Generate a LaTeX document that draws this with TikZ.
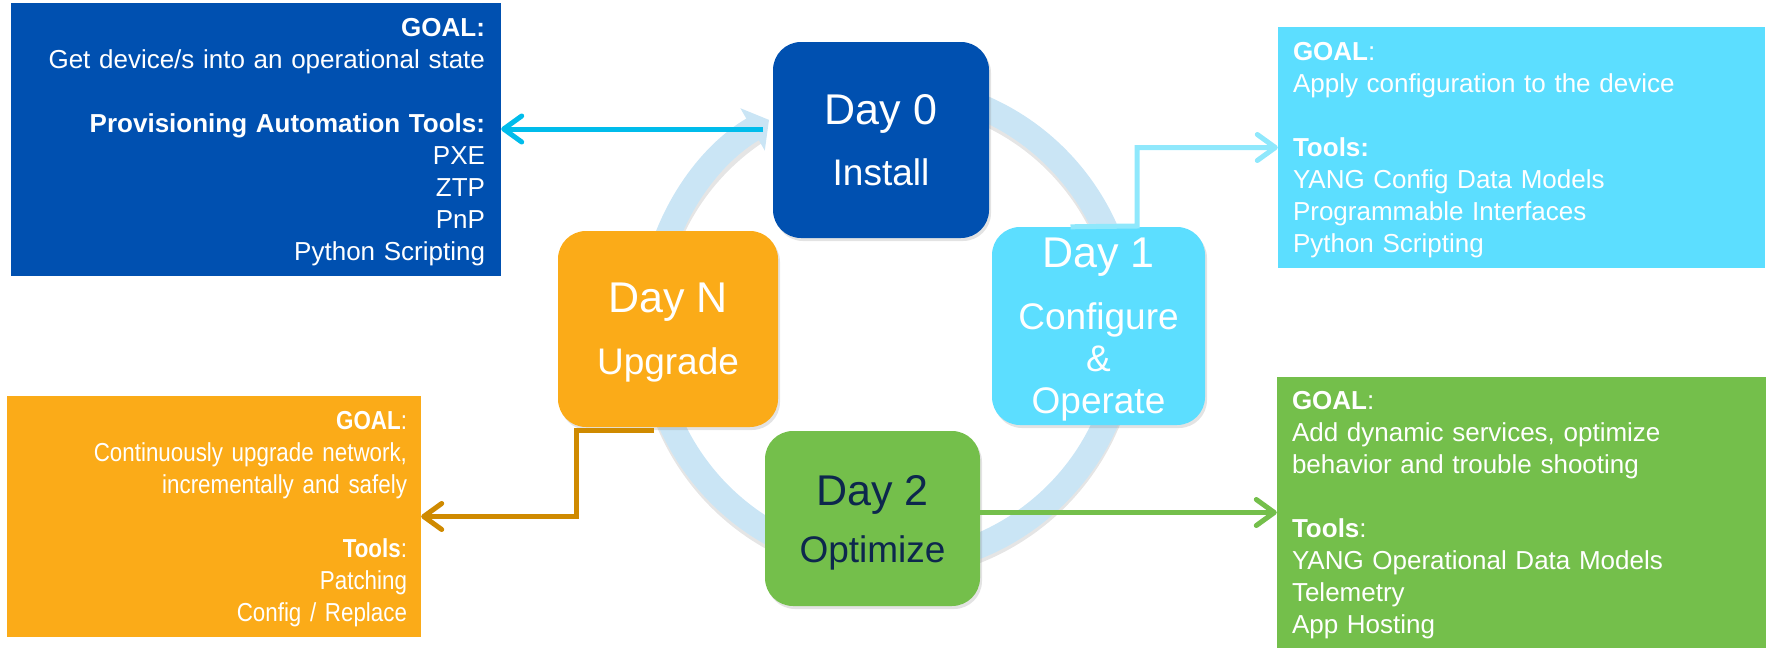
\documentclass[tikz,border=0pt]{standalone}
\usepackage{fontspec}
\setmainfont{Liberation Sans}
\newfontfamily\narrowfont[FakeStretch=0.86]{Liberation Sans}
\usepackage{xcolor}
\usetikzlibrary{arrows.meta,positioning,shadows,calc}

\definecolor{ciscoblue}{HTML}{0050B0}
\definecolor{sky}{HTML}{5CDEFF}
\definecolor{amber}{HTML}{FBAB18}
\definecolor{leaf}{HTML}{74BF4B}
\definecolor{navy}{HTML}{0D274D}
\definecolor{ringblue}{HTML}{CAE5F5}
\definecolor{cyanline}{HTML}{00BCEB}
\definecolor{skyline}{HTML}{8FE8FC}
\definecolor{amberline}{HTML}{CF8A00}

\newcommand{\daytitle}[1]{{\fontsize{43}{42}\selectfont #1}}

\begin{document}
\begin{tikzpicture}[x=1pt, y=-1pt,
    daybox/.style={rounded corners=28pt, align=center, text=white, inner sep=0pt, text depth=-10pt, font=\fontsize{37}{42}\selectfont, drop shadow={opacity=0.22, shadow xshift=2pt, shadow yshift=-3pt}},
    goalbox/.style={inner xsep=15pt, inner ysep=0pt, text=white, text height=24pt, font=\fontsize{26}{32}\selectfont},
    link/.style={line width=5pt, -{Straight Barb[length=18pt, width=26pt, round]}},
    ring/.style={line width=25pt, draw=ringblue, -{Triangle[length=19pt, width=48pt]}}
  ]
    \useasboundingbox (0,0) rectangle (1772,648);

    % cycle ring
    \coordinate (hub) at (888,326);
    \draw[line width=25pt, draw=black, opacity=0.10] ([shift={(0,4)}]hub) ++(-80:238) arc[start angle=-80, end angle=236, radius=238];
    \draw[ring] (hub) ++(-80:238) arc[start angle=-80, end angle=240, radius=238];

    % day boxes
    \node[daybox, fill=ciscoblue, minimum width=216pt, minimum height=196pt] (dayzero) at (881,140) {\daytitle{Day 0}\\[19pt]Install};
    \node[daybox, fill=sky, minimum width=213pt, minimum height=198pt] (dayone) at (1098.5,326) {\daytitle{Day 1}\\[20pt]Configure\\\&\\Operate};
    \node[daybox, fill=amber, minimum width=220pt, minimum height=196pt] (dayn) at (668,329) {\daytitle{Day N}\\[20pt]Upgrade};
    \node[daybox, fill=leaf, text=navy, minimum width=215pt, minimum height=175pt] (daytwo) at (872.5,518.5) {\daytitle{Day 2}\\[15pt]Optimize};

    % goal boxes
    \node[goalbox, fill=ciscoblue, inner xsep=16pt, text width=458pt, align=right, minimum height=273pt] (goalzero) at (256,139.5) {\textbf{GOAL:}\\Get device/s into an operational state\\[32pt]\textbf{Provisioning Automation Tools:}\\PXE\\ZTP\\PnP\\Python Scripting};
    \node[goalbox, fill=sky, text width=457pt, align=left, minimum height=241pt] (goalone) at (1521.5,147.5) {\textbf{GOAL}:\\Apply configuration to the device\\[32pt]\textbf{Tools:}\\YANG Config Data Models\\Programmable Interfaces\\Python Scripting};
    \node[goalbox, fill=amber, inner xsep=14pt, text width=386pt, align=right, minimum height=241pt, font=\narrowfont\fontsize{26}{32}\selectfont] (goaln) at (214,516.5) {\textbf{GOAL}:\\Continuously upgrade network,\\incrementally and safely\\[32pt]\textbf{Tools}:\\Patching\\Config / Replace};
    \node[goalbox, fill=leaf, text width=459pt, align=left, minimum height=271pt] (goaltwo) at (1521.5,512.5) {\textbf{GOAL}:\\Add dynamic services, optimize\\behavior and trouble shooting\\[32pt]\textbf{Tools}:\\YANG Operational Data Models\\Telemetry\\App Hosting};

    % connectors
    \coordinate (zstart) at (763,129);
    \coordinate (obend) at (1137,226);
    \coordinate (nstart) at (654,430);
    \coordinate (nbend) at (576,430);
    \draw[link, cyanline] (zstart) -- (goalzero.east |- zstart);
    \draw[link, skyline] ([xshift=-28pt]dayone.north) -- (obend) -- (obend |- goalone.west) -- (goalone.west);
    \draw[link, amberline] (nstart) -- (nbend) -- (nbend |- goaln.east) -- (goaln.east);
    \draw[link, leaf] (daytwo.east |- goaltwo.west) -- (goaltwo.west);
\end{tikzpicture}
\end{document}
